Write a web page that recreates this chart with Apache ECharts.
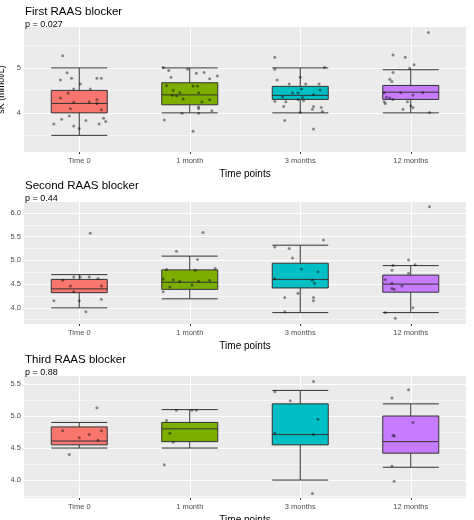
<!DOCTYPE html>
<html><head><meta charset="utf-8">
<script src="https://cdn.jsdelivr.net/npm/echarts@6/dist/echarts.min.js"></script>
<style>html,body{margin:0;padding:0;background:#fff}#c{width:474px;height:520px}</style>
</head><body><div id="c"></div>
<script>
const categories = ['Time 0','1 month','3 months','12 months'];
const colors = ['#F8766D','#7CAE00','#00BFC4','#C77CFF'];
const titles = ['First RAAS blocker','Second RAAS blocker','Third RAAS blocker'];
const pvals = ['p = 0.027','p = 0.44','p = 0.88'];
// [whisker low, Q1, median, Q3, whisker high]
const box1 = [[3.5,4.0,4.21,4.5,5.0],[4.0,4.18,4.40,4.67,5.0],[4.0,4.30,4.39,4.59,5.0],[4.0,4.30,4.46,4.61,4.96]];
const box2 = [[4.0,4.32,4.40,4.60,4.70],[4.19,4.39,4.54,4.80,5.09],[3.9,4.42,4.60,4.94,5.32],[3.9,4.33,4.50,4.69,4.89]];
const box3 = [[4.5,4.55,4.61,4.83,4.9],[4.5,4.6,4.8,4.9,5.1],[4.0,4.55,4.71,5.19,5.4],[4.2,4.42,4.6,5.0,5.19]];
// jittered points: [category index + offset, value]
const pts1 = [
[-0.15,5.27],[-0.11,4.89],[-0.17,4.73],[-0.07,4.77],[0.01,4.64],[-0.05,4.53],[0.1,4.53],[-0.1,4.44],[-0.17,4.33],[-0.05,4.24],[0.09,4.24],[0.16,4.29],[0.16,4.21],[-0.08,4.09],[0.2,4.07],[0.16,4.77],[0.2,4.77],[-0.16,3.86],[0.06,3.83],[-0.09,3.93],[-0.23,3.75],[-0.05,3.71],[0,3.65],[0.18,3.75],[0.22,3.88],[0.24,3.81],
[0.76,5.01],[0.81,4.94],[0.98,4.97],[0.83,4.79],[1.06,4.88],[1.13,4.9],[1.25,4.82],[1.18,4.76],[0.79,4.61],[0.85,4.5],[1.03,4.6],[1.07,4.6],[0.91,4.45],[1.08,4.45],[0.84,4.39],[0.88,4.38],[0.94,4.31],[1.18,4.29],[1.11,4.24],[1.08,4.13],[1.08,4.1],[1.2,4.05],[0.93,3.99],[1.08,3.99],[0.77,3.84],[1.03,3.59],
[1.77,5.24],[1.77,4.97],[2.22,5.01],[2.0,4.79],[1.79,4.73],[1.9,4.64],[2.05,4.64],[2.17,4.64],[2.01,4.53],[2.18,4.51],[1.93,4.44],[1.98,4.44],[2.12,4.41],[2.02,4.34],[1.84,4.36],[1.98,4.29],[2.03,4.27],[1.77,4.26],[1.87,4.25],[1.85,4.14],[2.12,4.14],[2.19,4.12],[2.11,4.08],[2.2,4.03],[2.0,4.01],[1.86,3.83],[2.12,3.64],
[3.16,5.79],[2.84,5.29],[2.95,5.24],[3.03,5.07],[2.99,4.99],[2.84,4.9],[2.81,4.75],[2.83,4.7],[2.76,4.45],[2.91,4.45],[3.11,4.45],[3.02,4.4],[2.78,4.35],[2.81,4.33],[2.84,4.3],[2.76,4.25],[2.77,4.21],[2.97,4.25],[3.0,4.16],[3.02,4.12],[2.93,4.08],[3.17,4.01]];
const pts2 = [
[0.1,5.57],[-0.15,4.58],[-0.05,4.65],[0.01,4.65],[0.09,4.65],[0.17,4.62],[-0.08,4.46],[0.2,4.46],[-0.05,4.34],[-0.23,4.15],[0,4.15],[0.2,4.18],[0.06,3.92],
[1.12,5.59],[0.88,5.19],[1.07,5.02],[0.79,4.81],[1.05,4.79],[1.23,4.83],[0.76,4.61],[0.85,4.59],[0.91,4.56],[1.08,4.56],[1.18,4.58],[1.02,4.48],[0.82,4.44],[0.76,4.34],
[2.21,5.43],[1.77,5.28],[1.9,5.25],[1.93,5.05],[2.01,4.82],[2.16,4.76],[1.77,4.62],[2.11,4.58],[2.13,4.52],[1.98,4.31],[1.86,4.22],[2.12,4.22],[2.12,4.15],[1.86,3.92],
[3.17,6.13],[2.98,5.01],[2.84,4.89],[3.04,4.91],[2.98,4.73],[2.83,4.79],[2.77,4.59],[2.83,4.52],[2.83,4.41],[2.85,4.39],[2.92,4.46],[3.02,4.0],[2.77,3.9],[2.86,3.78]];
const pts3 = [
[0.16,5.13],[-0.15,4.77],[0.2,4.77],[0.09,4.71],[0,4.66],[0.17,4.62],[-0.09,4.4],
[0.88,5.09],[1.02,5.09],[1.06,5.09],[0.79,4.93],[0.82,4.73],[0.85,4.59],[0.77,4.24],
[2.12,5.54],[1.77,5.38],[1.91,5.24],[2.16,4.95],[1.77,4.73],[2.12,4.71],[2.11,3.79],
[2.98,5.41],[2.83,5.28],[3.02,4.9],[2.84,4.7],[2.85,4.69],[2.83,4.22],[2.85,3.98]];
const yRanges = [[3.13,5.91],[3.66,6.23],[3.72,5.625]];
const majorTicks = [[4,5],[4.0,4.5,5.0,5.5,6.0],[4.0,4.5,5.0,5.5]];
const minorTicks = [[3.5,4.5,5.5],[3.75,4.25,4.75,5.25,5.75],[3.75,4.25,4.75,5.25]];
const decimals = [0,1,1];
const boxes = [box1,box2,box3];
const points = [pts1,pts2,pts3];
const grids = [{top:27,height:125},{top:202,height:122},{top:376,height:122}];
const titleY = [[1,15],[175,189],[349,363]];

const ch = echarts.init(document.getElementById('c'));
const font = 'Liberation Sans, Arial, sans-serif';
const opt = {animation:false, title:[], grid:[], xAxis:[], yAxis:[], series:[]};
for (let p=0;p<3;p++){
  opt.title.push({text:titles[p], left:20, top:titleY[p][0], textStyle:{fontSize:11.5,fontWeight:'normal',color:'#000',fontFamily:font}});
  opt.title.push({text:pvals[p], left:20, top:titleY[p][1], textStyle:{fontSize:9,fontWeight:'normal',color:'#000',fontFamily:font}});
  opt.grid.push({left:24,right:8,top:grids[p].top,height:grids[p].height,show:true,backgroundColor:'#EBEBEB',borderWidth:0,containLabel:false,outerBoundsMode:'none'});
  opt.xAxis.push({type:'category',gridIndex:p,data:categories,boundaryGap:true,
    name:'Time points',nameLocation:'middle',nameGap:17,nameTextStyle:{fontSize:10,color:'#000',fontFamily:font},
    axisLine:{show:false},axisTick:{show:true,alignWithLabel:true,length:2,lineStyle:{color:'#333'}},
    axisLabel:{fontSize:7.5,color:'#4D4D4D',margin:5,fontFamily:font},splitLine:{show:false}});
  opt.xAxis.push({type:'value',gridIndex:p,min:-0.5,max:3.5,show:false});
  opt.yAxis.push({type:'value',gridIndex:p,min:yRanges[p][0],max:yRanges[p][1],
    name:'sK (mmol/L)',nameLocation:'middle',nameGap:p===0?14:17,nameTextStyle:{fontSize:9,color:'#000',fontFamily:font},
    axisLine:{show:false},splitLine:{show:false},
    axisTick:{show:true,length:2,customValues:majorTicks[p],lineStyle:{color:'#333'}},
    axisLabel:{fontSize:7.5,color:'#4D4D4D',margin:3,fontFamily:font,customValues:majorTicks[p],
      formatter:v=>Number(v).toFixed(decimals[p])}});
  const gridLines = majorTicks[p].map(v=>({yAxis:v,lineStyle:{color:'#fff',width:1,type:'solid'}}))
    .concat(minorTicks[p].map(v=>({yAxis:v,lineStyle:{color:'#fff',width:0.5,type:'solid'}})))
    .concat([0,1,2,3].map(v=>({xAxis:v,lineStyle:{color:'#fff',width:1,type:'solid'}})));
  opt.series.push({type:'scatter',xAxisIndex:2*p+1,yAxisIndex:p,data:[],silent:true,z:1,
    markLine:{silent:true,symbol:'none',label:{show:false},data:gridLines,z:1}});
  opt.series.push({type:'boxplot',xAxisIndex:2*p,yAxisIndex:p,boxWidth:[56,56],z:3,
    data:boxes[p].map((b,i)=>({value:b,itemStyle:{color:colors[i],borderColor:'#333',borderWidth:1}}))});
  opt.series.push({type:'scatter',xAxisIndex:2*p+1,yAxisIndex:p,data:points[p],symbolSize:3,z:5,
    itemStyle:{color:'rgba(0,0,0,0.55)'}});
}
ch.setOption(opt);
</script></body></html>
